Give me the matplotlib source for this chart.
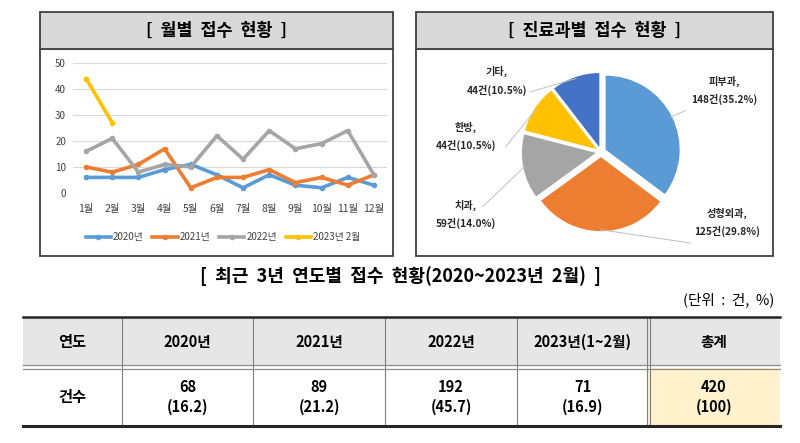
import numpy as np
import matplotlib.pyplot as plt
from matplotlib.patches import Rectangle

plt.rcParams['font.family'] = ['Noto Sans CJK KR', 'DejaVu Sans']

# monthly data
months = ['1월', '2월', '3월', '4월', '5월', '6월', '7월', '8월', '9월', '10월', '11월', '12월']
y2020 = [6, 6, 6, 9, 11, 7, 2, 7, 3, 2, 6, 3]
y2021 = [10, 8, 11, 17, 2, 6, 6, 9, 4, 6, 3, 7]
y2022 = [16, 21, 8, 11, 10, 22, 13, 24, 17, 19, 24, 7]
y2023 = [44, 27]
series_names = ['2020년', '2021년', '2022년', '2023년 2월']
series_colors = ['#5B9BD5', '#ED7D31', '#A5A5A5', '#FFC000']

# department data
dept_names = ['피부과', '성형외과', '치과', '한방', '기타']
dept_counts = [148, 125, 59, 44, 44]
dept_pcts = [35.2, 29.8, 14.0, 10.5, 10.5]
dept_colors = ['#5B9BD5', '#ED7D31', '#A5A5A5', '#FFC000', '#4472C4']

# yearly table
table_cols = ['2020년', '2021년', '2022년', '2023년(1~2월)', '총계']
table_counts = [68, 89, 192, 71, 420]
table_pcts = ['16.2', '21.2', '45.7', '16.9', '100']

W, H = 800, 443
fig = plt.figure(figsize=(8, 4.43), dpi=100)
bg = fig.add_axes([0, 0, 1, 1])
bg.set_xlim(0, W)
bg.set_ylim(H, 0)
bg.axis('off')


def px_axes(x0, y0, x1, y1):
    return fig.add_axes([x0 / W, 1 - y1 / H, (x1 - x0) / W, (y1 - y0) / H])


# boxes with title bars
for x0, x1, title in [(40, 393, '[  월별  접수  현황  ]'), (416, 773, '[  진료과별  접수  현황  ]')]:
    bg.add_patch(Rectangle((x0, 49), x1 - x0, 207, fc='white', ec='#404040', lw=1.3))
    bg.add_patch(Rectangle((x0, 12), x1 - x0, 37, fc='#D9D9D9', ec='#404040', lw=1.3))
    bg.text((x0 + x1) / 2, 30.5, title, ha='center', va='center', fontsize=12.5, fontweight='bold')

# line chart
ax = px_axes(73, 63, 387, 193)
ax.set_facecolor('none')
x = np.arange(1, 13)
for ys, name, c in zip([y2020, y2021, y2022, y2023], series_names, series_colors):
    ax.plot(x[:len(ys)], ys, color=c, lw=2.6, marker='o', ms=3, label=name)
ax.set_xlim(0.5, 12.5)
ax.set_ylim(0, 50)
ax.set_yticks(range(0, 51, 10))
ax.set_xticks(x)
ax.set_xticklabels(months)
ax.grid(axis='y', color='#D9D9D9', lw=0.8)
ax.set_axisbelow(True)
for s in ax.spines.values():
    s.set_visible(False)
ax.tick_params(axis='x', length=0, pad=8, labelsize=7.5, colors='#404040')
ax.tick_params(axis='y', length=0, pad=5, labelsize=7, colors='#404040')
fig.legend(*ax.get_legend_handles_labels(), loc='center', bbox_to_anchor=(223 / W, 1 - 237 / H),
           ncol=4, frameon=False, fontsize=7, handlelength=2.6, columnspacing=0.9,
           handletextpad=0.2, labelcolor='#404040')

# pie chart, 1 unit = 74 px, centre at (600, 153)
r_px, cx, cy = 74, 601, 152
pax = px_axes(417, 50, 772, 255)
pax.set_facecolor('none')
wedges, _ = pax.pie(dept_counts, colors=dept_colors, startangle=90, counterclock=False,
                    explode=[0.07] * 5, radius=1)
pax.set_aspect('auto')
pax.set_xlim((417 - cx) / r_px, (772 - cx) / r_px)
pax.set_ylim((cy - 255) / r_px, (cy - 50) / r_px)

label_pos = [(1.67, 0.83), (1.71, -0.95), (-1.83, -0.84), (-1.83, 0.21), (-1.41, 0.96)]
line_end = [(1.14, 0.56), (1.21, -1.23), (-1.60, -0.74), (-1.29, 0.07), (-0.96, 0.81)]
for w, name, n, p, lp, le in zip(wedges, dept_names, dept_counts, dept_pcts, label_pos, line_end):
    mid = np.deg2rad((w.theta1 + w.theta2) / 2)
    sx = w.center[0] + 0.98 * np.cos(mid)
    sy = w.center[1] + 0.98 * np.sin(mid)
    pax.plot([sx, le[0]], [sy, le[1]], color='#BFBFBF', lw=0.7)
    pax.text(lp[0], lp[1], f'{name},\n{n}건({p:.1f}%)', ha='center', va='center',
             fontsize=7.3, fontweight='bold', color='#262626', linespacing=1.8)

# yearly table
bg.text(400, 276, '[  최근  3년  연도별  접수  현황(2020~2023년  2월)  ]', ha='center', va='center',
        fontsize=13, fontweight='bold')
bg.text(774, 300, '(단위  :  건,  %)', ha='right', va='center', fontsize=10.5)

edges = [23, 122, 253, 385, 517, 648, 780]
bg.add_patch(Rectangle((23, 317), 757, 49, fc='#E7E6E6', ec='none'))
bg.add_patch(Rectangle((648, 368), 132, 58, fc='#FFF2CC', ec='none'))
for xe in edges[1:-1]:
    if xe == 648:
        bg.plot([646.5, 646.5], [317, 426], color='#7F7F7F', lw=0.8)
        bg.plot([649.5, 649.5], [317, 426], color='#7F7F7F', lw=0.8)
    else:
        bg.plot([xe, xe], [317, 426], color='#7F7F7F', lw=0.8)
bg.plot([23, 780], [317, 317], color='#262626', lw=1.8)
bg.plot([23, 780], [365, 365], color='#8C8C8C', lw=0.9)
bg.plot([23, 780], [368.5, 368.5], color='#8C8C8C', lw=0.9)
bg.plot([23, 780], [426, 426], color='#262626', lw=2.2)

bg.text((edges[0] + edges[1]) / 2, 342, '연도', ha='center', va='center', fontsize=11, fontweight='bold')
bg.text((edges[0] + edges[1]) / 2, 397, '건수', ha='center', va='center', fontsize=11, fontweight='bold')
for i, (col, n, p) in enumerate(zip(table_cols, table_counts, table_pcts)):
    xc = (edges[i + 1] + edges[i + 2]) / 2
    bg.text(xc, 342, col, ha='center', va='center', fontsize=10.5, fontweight='bold')
    bg.text(xc, 387, str(n), ha='center', va='center', fontsize=10.5, fontweight='bold')
    bg.text(xc, 407, f'({p})', ha='center', va='center', fontsize=10.5, fontweight='bold')

fig.savefig('out.png', dpi=100)
